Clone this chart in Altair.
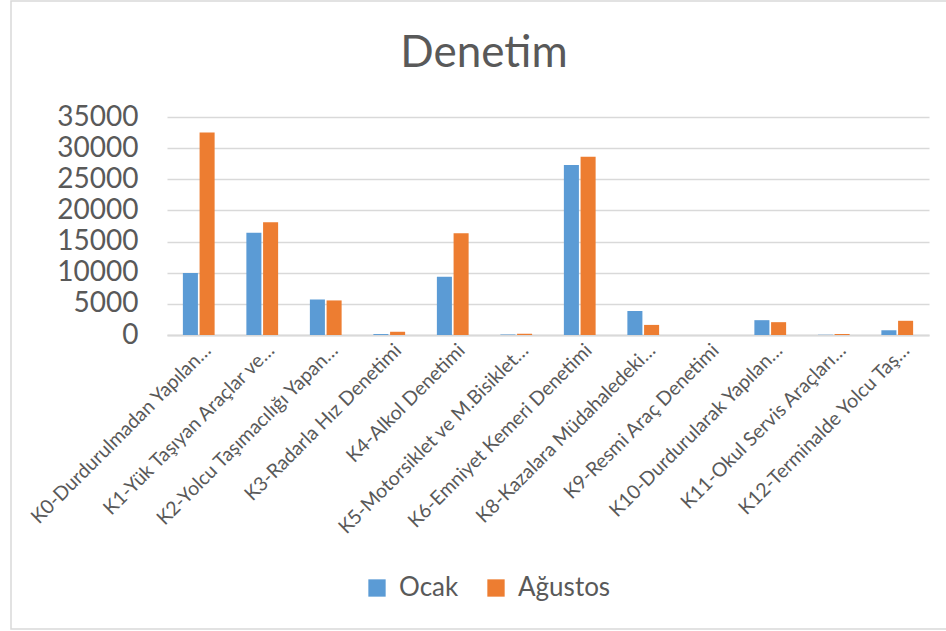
import altair as alt
import pandas as pd

title_text = "Denetim"
categories = [
    "K0-Durdurulmadan Yapılan…",
    "K1-Yük Taşıyan Araçlar ve…",
    "K2-Yolcu Taşımacılığı Yapan…",
    "K3-Radarla Hız Denetimi",
    "K4-Alkol Denetimi",
    "K5-Motorsiklet ve M.Bisiklet…",
    "K6-Emniyet Kemeri Denetimi",
    "K8-Kazalara Müdahaledeki…",
    "K9-Resmi Araç Denetimi",
    "K10-Durdurularak Yapılan…",
    "K11-Okul Servis Araçları…",
    "K12-Terminalde Yolcu Taş…",
]
ocak = [9950, 16400, 5700, 150, 9350, 80, 27300, 3850, 0, 2380, 40, 760]
agustos = [32500, 18100, 5550, 520, 16350, 200, 28600, 1620, 0, 2060, 160, 2280]
series = ["Ocak", "Ağustos"]
colors = ["#5B9BD5", "#ED7D31"]

rows = []
for c, a, b in zip(categories, ocak, agustos):
    rows.append({"kategori": c, "seri": series[0], "deger": a})
    rows.append({"kategori": c, "seri": series[1], "deger": b})
df = pd.DataFrame(rows)

FONT = "Lato"
TXT = "#595959"

bars = alt.Chart(df).mark_bar().encode(
    x=alt.X("kategori:N", sort=categories, title=None,
            scale=alt.Scale(paddingInner=0.5, paddingOuter=0.25),
            axis=alt.Axis(labelAngle=-45, labelAlign="right", labelBaseline="middle",
                          labelFontSize=19.5, labelColor=TXT, labelFont=FONT,
                          labelPadding=12, labelOffset=9, ticks=False,
                          domainColor="#d9d9d9", domainWidth=2, labelLimit=400)),
    xOffset=alt.XOffset("seri:N", sort=series, scale=alt.Scale(paddingInner=0.1)),
    y=alt.Y("deger:Q", title=None,
            scale=alt.Scale(domain=[0, 35000], nice=False),
            axis=alt.Axis(values=[0, 5000, 10000, 15000, 20000, 25000, 30000, 35000],
                          format="d", labelFontSize=28, labelColor=TXT, labelFont=FONT,
                          labelPadding=29, ticks=False, domain=False,
                          gridColor="#d9d9d9", gridWidth=1.5)),
    color=alt.Color("seri:N", sort=series,
                    scale=alt.Scale(domain=series, range=colors),
                    legend=alt.Legend(title=None, orient="none", direction="horizontal",
                                      legendX=197, legendY=458, symbolType="square",
                                      symbolSize=300, symbolStrokeWidth=0,
                                      labelFontSize=26, labelColor=TXT, labelFont=FONT,
                                      labelOffset=9, columnPadding=24)),
)

border = alt.Chart(pd.DataFrame({"k": [0]})).mark_rect(
    fill=None, stroke="#d9d9d9", strokeWidth=1.5, clip=False
).encode(
    x=alt.value(-156), x2=alt.value(790),
    y=alt.value(-116), y2=alt.value(512),
)

title = alt.Chart(pd.DataFrame({"t": [title_text]})).mark_text(
    font=FONT, fontSize=44, color=TXT, align="center", baseline="alphabetic", clip=False
).encode(
    text="t:N", x=alt.value(317), y=alt.value(-50),
)

chart = alt.layer(border, bars, title).properties(
    width=762,
    height=218,
    autosize=alt.AutoSizeParams(type="none"),
    padding={"left": 167, "top": 117, "right": 17, "bottom": 296},
).configure_view(stroke=None)

chart.save("out.html", embed_options={"renderer": "svg", "actions": False})
